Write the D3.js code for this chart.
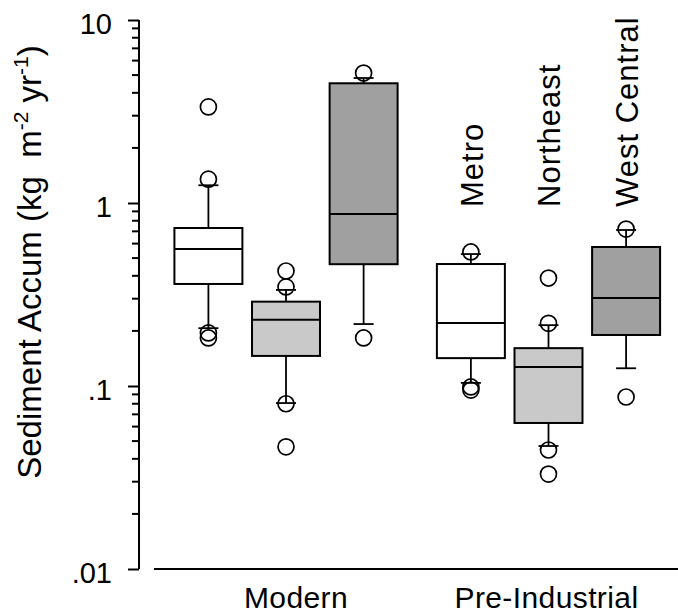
<!DOCTYPE html>
<html>
<head>
<meta charset="utf-8">
<script src="https://cdn.jsdelivr.net/npm/d3@7"></script>
<style>
  body { margin: 0; background: #fff; }
  text { font-family: "Liberation Sans", Arial, Helvetica, sans-serif; fill: #000; }
</style>
</head>
<body>
<svg id="chart" width="678" height="614"></svg>
<script>
// groups along the x axis and the three regions inside each group
var groups = ["Modern", "Pre-Industrial"];
var regions = ["Metro", "Northeast", "West Central"];

// box statistics, order: Modern Metro, Modern NE, Modern WC, Pre Metro, Pre NE, Pre WC
var q1 = [0.361, 0.146, 0.463, 0.142, 0.0628, 0.190];
var median = [0.561, 0.230, 0.871, 0.221, 0.127, 0.303];
var q3 = [0.730, 0.289, 4.51, 0.464, 0.161, 0.575];
var whiskLo = [0.207, 0.0807, 0.218, 0.104, 0.047, 0.125];
var whiskHi = [1.25, 0.335, 4.82, 0.526, 0.215, 0.712];
var outliers = [
  [3.35, 1.35, 0.195, 0.183],
  [0.425, 0.348, 0.080, 0.0465],
  [5.13, 0.183],
  [0.54, 0.0988, 0.095],
  [0.389, 0.22, 0.0447, 0.033],
  [0.72, 0.0871]
];
var yTicks = [10, 1, 0.1, 0.01];
var yTickLabels = ["10", "1", ".1", ".01"];
var minorSteps = [2, 3, 4, 5, 6, 7, 8, 9];
var decades = [0.01, 0.1, 1];

var fills = { "Metro": "#ffffff", "Northeast": "#c9c9c9", "West Central": "#a0a0a0" };

var svg = d3.select("#chart");

// scales
var y = d3.scaleLog().domain([0.01, 10]).range([569, 20]);
var x0 = d3.scaleBand().domain(groups).range([169.6, 664.9]).paddingInner(0.113);
var x1 = d3.scaleBand().domain(regions).range([0, x0.bandwidth()])
  .paddingInner(0.124).paddingOuter(0.062);

// build rows from the arrays
var rows = [];
groups.forEach(function (g, gi) {
  regions.forEach(function (r, ri) {
    var i = gi * regions.length + ri;
    rows.push({
      group: g, region: r,
      q1: q1[i], med: median[i], q3: q3[i],
      lo: whiskLo[i], hi: whiskHi[i], out: outliers[i]
    });
  });
});

function cx(d) { return x0(d.group) + x1(d.region) + x1.bandwidth() / 2; }

// minor log ticks
var minor = [];
decades.forEach(function (dec) {
  minorSteps.forEach(function (k) { minor.push(dec * k); });
});
svg.append("g").attr("class", "minor").selectAll("path")
  .data(minor)
  .enter().append("path")
  .attr("d", function (d) { return "M132," + y(d) + "H139"; })
  .attr("fill", "none")
  .attr("stroke", "#000").attr("stroke-width", 2);

// y axis
var yAxis = d3.axisLeft(y).tickValues(yTicks).tickSize(11).tickPadding(16)
  .tickFormat(function (d, i) { return yTickLabels[i]; });
var gy = svg.append("g").attr("transform", "translate(139,0)").call(yAxis);
gy.select(".domain").attr("stroke", "#000").attr("stroke-width", 2).attr("d", "M0,20V569");
gy.selectAll(".tick line").attr("stroke", "#000").attr("stroke-width", 2);
gy.selectAll(".tick text").attr("font-size", 29).attr("dy", "0.46em")
  .style("font-family", "'Liberation Sans', Arial, sans-serif");

// y axis title
var title = svg.append("text")
  .attr("transform", "translate(41,262) rotate(-90)")
  .attr("text-anchor", "middle")
  .attr("font-size", 33);
title.append("tspan").text("Sediment Accum (kg\u00a0\u00a0m");
title.append("tspan").attr("font-size", 21).attr("dy", -13).text("-2");
title.append("tspan").attr("dy", 13).text(" yr");
title.append("tspan").attr("font-size", 21).attr("dy", -13).text("-1");
title.append("tspan").attr("dy", 13).text(")");

// x axis baseline and group labels
svg.append("line")
  .attr("x1", 154).attr("x2", 678).attr("y1", y(0.01)).attr("y2", y(0.01))
  .attr("stroke", "#000").attr("stroke-width", 2);

svg.selectAll(".grp")
  .data(groups)
  .enter().append("text")
  .attr("class", "grp")
  .attr("x", function (d) { return x0(d) + x0.bandwidth() / 2 + (d === "Modern" ? 10 : -2); })
  .attr("y", 608)
  .attr("text-anchor", "middle")
  .attr("font-size", 30)
  .attr("letter-spacing", 0.4)
  .text(function (d) { return d; });

// boxes
var box = svg.selectAll(".box")
  .data(rows)
  .enter().append("g")
  .attr("class", "box");

var cap = 20;

// whiskers
box.append("line")
  .attr("x1", cx).attr("x2", cx)
  .attr("y1", function (d) { return y(d.q3); })
  .attr("y2", function (d) { return y(d.hi); })
  .attr("stroke", "#000").attr("stroke-width", 1.8);
box.append("line")
  .attr("x1", cx).attr("x2", cx)
  .attr("y1", function (d) { return y(d.q1); })
  .attr("y2", function (d) { return y(d.lo); })
  .attr("stroke", "#000").attr("stroke-width", 1.8);
box.append("line")
  .attr("x1", function (d) { return cx(d) - cap / 2; })
  .attr("x2", function (d) { return cx(d) + cap / 2; })
  .attr("y1", function (d) { return y(d.hi); })
  .attr("y2", function (d) { return y(d.hi); })
  .attr("stroke", "#000").attr("stroke-width", 1.8);
box.append("line")
  .attr("x1", function (d) { return cx(d) - cap / 2; })
  .attr("x2", function (d) { return cx(d) + cap / 2; })
  .attr("y1", function (d) { return y(d.lo); })
  .attr("y2", function (d) { return y(d.lo); })
  .attr("stroke", "#000").attr("stroke-width", 1.8);

box.append("rect")
  .attr("x", function (d) { return x0(d.group) + x1(d.region); })
  .attr("width", x1.bandwidth())
  .attr("y", function (d) { return y(d.q3); })
  .attr("height", function (d) { return y(d.q1) - y(d.q3); })
  .attr("fill", function (d) { return fills[d.region]; })
  .attr("stroke", "#000").attr("stroke-width", 2);

box.append("line")
  .attr("x1", function (d) { return x0(d.group) + x1(d.region); })
  .attr("x2", function (d) { return x0(d.group) + x1(d.region) + x1.bandwidth(); })
  .attr("y1", function (d) { return y(d.med); })
  .attr("y2", function (d) { return y(d.med); })
  .attr("stroke", "#000").attr("stroke-width", 2);

// outliers
box.selectAll("circle")
  .data(function (d) { return d.out.map(function (v) { return { v: v, d: d }; }); })
  .enter().append("circle")
  .attr("cx", function (o) { return cx(o.d); })
  .attr("cy", function (o) { return y(o.v); })
  .attr("r", 8)
  .attr("fill", "none")
  .attr("stroke", "#000").attr("stroke-width", 1.7);

// region labels above the pre-industrial boxes
svg.selectAll(".reg")
  .data(regions)
  .enter().append("text")
  .attr("class", "reg")
  .attr("transform", function (d) {
    var xc = x0("Pre-Industrial") + x1(d) + x1.bandwidth() / 2 + 12;
    return "translate(" + xc + ",207) rotate(-90)";
  })
  .attr("font-size", 31)
  .attr("letter-spacing", 1)
  .text(function (d) { return d; });
</script>
</body>
</html>
